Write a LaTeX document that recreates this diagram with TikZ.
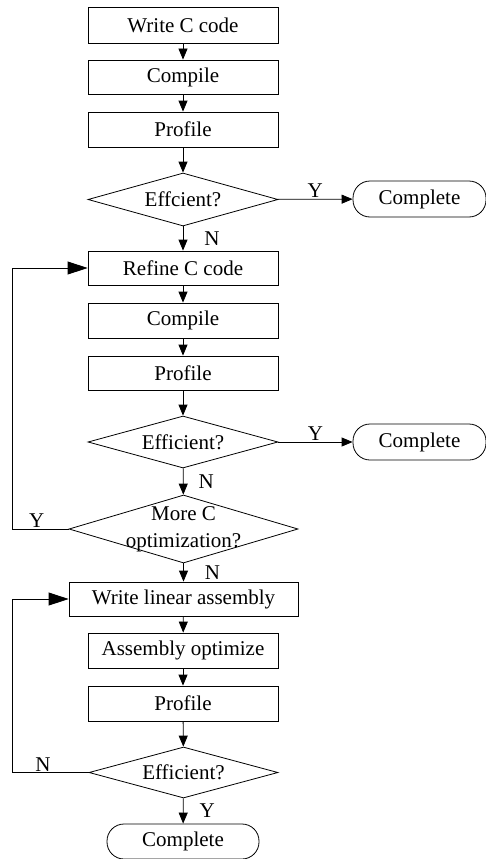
\documentclass[tikz,border=0pt]{standalone}
\usepackage{fontspec}
\setmainfont{Liberation Serif}
\usetikzlibrary{shapes.geometric,arrows.meta}

\begin{document}
\begin{tikzpicture}[x=1pt, y=-1pt, >={Triangle[length=11pt,width=9pt]}, line width=0.8pt,
    every node/.style={font=\fontsize{21}{27}\selectfont},
    proc/.style={draw, rectangle, minimum width=190pt, minimum height=35pt, inner sep=0pt},
    dec/.style={draw, diamond, shape aspect=3.6, minimum width=190pt, minimum height=53pt, inner sep=0pt},
    term/.style={draw, rectangle, rounded corners=17pt, minimum width=133pt, minimum height=36pt, inner sep=0pt},
    yn/.style={inner sep=1pt},
    big/.style={-{Triangle[length=20pt,width=13pt]}}]
    \useasboundingbox (0,0) rectangle (486,859);

    % First pass: C code
    \node (write) at (183,25) [proc, minimum height=36pt] {Write C code};
    \node (comp1) at (183,77) [proc, minimum height=34pt] {Compile};
    \node (prof1) at (183,129.5) [proc] {Profile};
    \node (eff1) at (183,199.5) [dec] {Effcient?};
    \node (done1) at (419.5,199) [term] {Complete};

    % Refining the C code
    \node (refine) at (183,268) [proc, minimum height=34pt] {Refine C code};
    \node (comp2) at (183,320.5) [proc] {Compile};
    \node (prof2) at (183,373) [proc, minimum height=34pt] {Profile};
    \node (eff2) at (183,442) [dec, minimum height=52pt] {Efficient?};
    \node (done2) at (419.5,442) [term] {Complete};
    \node (more) at (183.5,529) [dec, minimum width=229pt, minimum height=68pt,
        label={[align=center, inner sep=0pt]center:More C\\optimization?}] {};

    % Linear assembly
    \node (wla) at (183.5,599) [proc, minimum width=229pt, minimum height=34pt] {Write linear assembly};
    \node (asm) at (183,650.5) [proc] {Assembly optimize};
    \node (prof3) at (183,703.5) [proc] {Profile};
    \node (eff3) at (183.5,772.5) [dec, minimum width=189pt, minimum height=51pt] {Efficient?};
    \node (done3) at (183,841.5) [term, minimum width=152pt, minimum height=35pt] {Complete};

    % Main flow
    \draw[->] (write) -- (comp1);
    \draw[->] (comp1) -- (prof1);
    \draw[->] (prof1) -- (eff1);
    \draw[->] (eff1) -- node[midway, above, yn] {Y} (done1);
    \draw[->] (eff1) -- node[midway, anchor=west, xshift=20pt, yn] {N} (refine);
    \draw[->] (refine) -- (comp2);
    \draw[->] (comp2) -- (prof2);
    \draw[->] (prof2) -- (eff2);
    \draw[->] (eff2) -- node[midway, above, yn] {Y} (done2);
    \draw[->] (eff2) -- node[midway, anchor=west, xshift=14pt, yn] {N} (more);
    \draw[->] (more) -- node[midway, anchor=west, xshift=20pt, yn] {N} (wla);
    \draw[->] (wla) -- (asm);
    \draw[->] (asm) -- (prof3);
    \draw[->] (prof3) -- (eff3);
    \draw[->] (eff3) -- node[midway, anchor=west, xshift=15pt, yn] {Y} (done3);

    % Loops back
    \draw[big] (more.west) -- ++(-56,0) node[pos=0.57, above, yn] {Y} |- (refine.west);
    \draw[big] (eff3.west) -- ++(-76,0) node[pos=0.6, above, yn] {N} |- (wla.west);
\end{tikzpicture}
\end{document}
